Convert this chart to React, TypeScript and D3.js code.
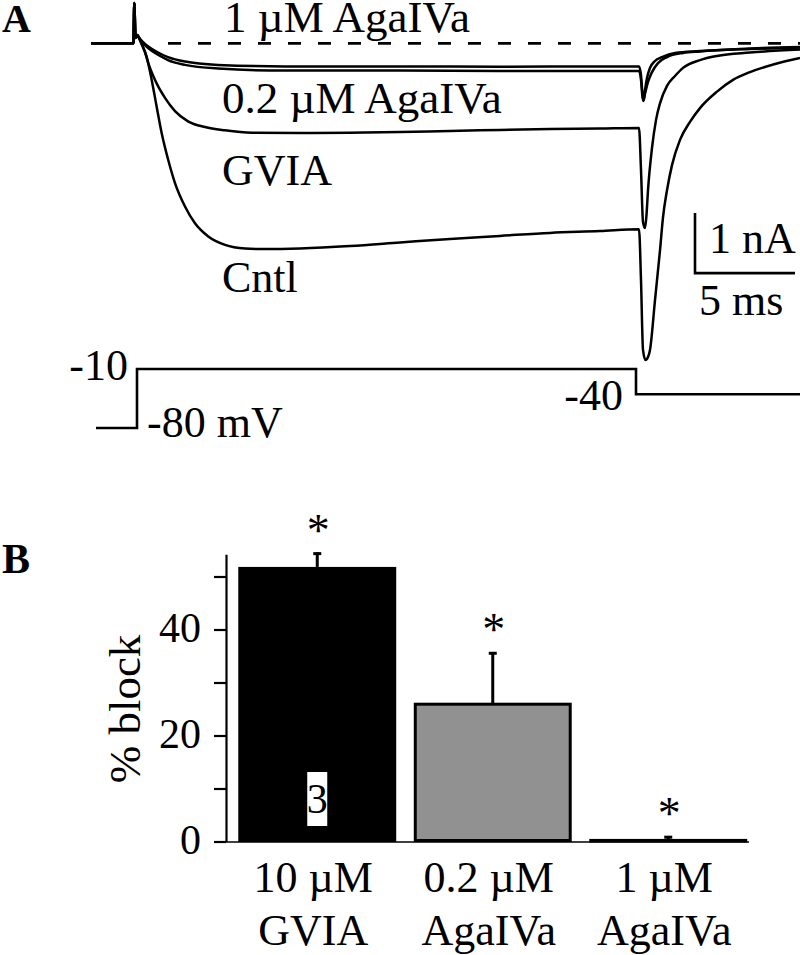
import React from "react";
import * as d3 from "d3";

// ---------- Panel A data (time in ms from step onset, current in nA) ----------
const preStep: [number, number][] = [
  [-2.3, 0], [-0.175, 0], [-0.135, 0.67], [-0.075, 0.09], [0, 0.14],
];

const traceCntl: [number, number][] = [
  [0.075, 0.105], [0.25, -0.03], [0.485, -0.23], [0.735, -0.61], [0.985, -1.06],
  [1.235, -1.5], [1.565, -1.95], [1.9, -2.33], [2.4, -2.72], [2.9, -3.0],
  [3.565, -3.22], [4.4, -3.36], [5.4, -3.42], [6.4, -3.43], [8.15, -3.42],
  [10.65, -3.38], [13.15, -3.32], [15.65, -3.26], [18.15, -3.21], [20.65, -3.16],
  [23.15, -3.13], [25.1, -3.1],
  [25.2, -3.95], [25.3, -5.11], [25.425, -5.28], [25.55, -5.23], [25.65, -5.11],
  [25.9, -4.28], [26.15, -3.45], [26.3, -2.9], [26.5, -2.45], [26.75, -2.03],
  [27.15, -1.61], [27.65, -1.31], [28.15, -1.08], [28.985, -0.81], [29.8, -0.61],
  [30.65, -0.48], [31.9, -0.345], [33.15, -0.245],
];

const traceGVIA: [number, number][] = [
  [0.15, 0.055], [0.4, -0.145], [0.565, -0.33], [0.9, -0.61], [1.4, -0.91],
  [1.9, -1.13], [2.55, -1.3], [3.4, -1.395], [4.4, -1.45], [5.75, -1.49],
  [8.15, -1.495], [10.65, -1.49], [13.15, -1.48], [15.65, -1.46], [18.15, -1.445],
  [20.65, -1.43], [23.15, -1.42], [25.1, -1.41],
  [25.2, -2.11], [25.3, -2.98], [25.4, -3.08], [25.475, -2.86], [25.55, -2.45],
  [25.75, -1.745], [25.95, -1.28], [26.15, -1.0], [26.5, -0.71], [26.9, -0.545],
  [27.3, -0.41], [28.15, -0.28], [29.0, -0.21], [30.65, -0.155], [33.15, -0.105],
];

const traceAga1: [number, number][] = [
  [0.15, 0.07], [0.4, -0.01], [0.75, -0.095], [1.15, -0.17], [1.55, -0.23],
  [2.4, -0.305], [4.05, -0.36], [7.4, -0.385], [13.15, -0.385], [18.15, -0.39],
  [23.15, -0.385], [25.1, -0.385],
  [25.2, -0.53], [25.275, -0.845], [25.325, -0.945], [25.4, -0.78], [25.5, -0.58],
  [25.65, -0.41], [25.9, -0.295], [26.25, -0.23], [26.9, -0.16], [28.15, -0.13],
  [30.65, -0.085], [33.15, -0.06],
];

const traceAga02: [number, number][] = [
  [0.15, 0.07], [0.4, -0.03], [0.75, -0.13], [1.15, -0.21], [1.55, -0.28],
  [2.4, -0.36], [4.05, -0.42], [7.4, -0.455], [13.15, -0.455], [18.15, -0.46],
  [23.15, -0.46], [25.1, -0.46],
  [25.2, -0.61], [25.275, -0.895], [25.325, -0.96], [25.4, -0.845], [25.55, -0.645],
  [25.75, -0.48], [26.05, -0.33], [26.5, -0.23], [27.3, -0.16], [28.15, -0.135],
  [30.65, -0.095], [33.15, -0.07],
];

const voltageProtocol: [number, number][] = [
  [-2.05, -80], [0, -80], [0, -10], [24.95, -10], [24.95, -40], [33.15, -40],
];

const traceLabels = ["1 µM AgaIVa", "0.2 µM AgaIVa", "GVIA", "Cntl"];
const scaleBarTime = 5; // ms
const scaleBarCurrent = 1; // nA

// ---------- Panel B data ----------
const categoriesLine1 = ["10 µM", "0.2 µM", "1 µM"];
const categoriesLine2 = ["GVIA", "AgaIVa", "AgaIVa"];
const blockMeans = [51.9, 26.0, 0.3];
const blockSEM = [2.7, 9.8, 0.8];
const nLabels = ["3", "", ""];
const yTicksB = [0, 10, 20, 30, 40, 50];
const yTickLabelsB = [0, 20, 40];

const FONT = "'Liberation Serif', 'Times New Roman', serif";

export default function App() {
  // Panel A scales
  const xA = d3.scaleLinear().domain([0, 5]).range([137, 237]);
  const yA = d3.scaleLinear().domain([0, -1]).range([43.3, 103.3]);
  const yV = d3.scaleLinear().domain([-80, -10]).range([428, 369]);

  const lineA = d3
    .line<[number, number]>()
    .x((d) => xA(d[0]))
    .y((d) => yA(d[1]))
    .curve(d3.curveMonotoneX);

  const lineV = d3
    .line<[number, number]>()
    .x((d) => xA(d[0]))
    .y((d) => yV(d[1]));

  const traces = [traceAga1, traceAga02, traceGVIA, traceCntl];

  // Panel B scales
  const keys = categoriesLine1.map((c, i) => c + " " + categoriesLine2[i]);
  const xB = d3.scaleBand<string>().domain(keys).range([229.5, 756]).paddingInner(0.1).paddingOuter(0.05);
  const yB = d3.scaleLinear().domain([0, 50]).range([842, 577]);

  const sbT0 = 27.9;
  const sbI0 = -3.83;

  return (
    <svg
      width={800}
      height={955}
      style={{ position: "absolute", left: 0, top: 0, background: "#fff" }}
      fontFamily={FONT}
    >
      <rect x={0} y={0} width={800} height={955} fill="#fff" />
      {/* ---------- Panel A ---------- */}
      <text x={2} y={32} fontSize={40} fontWeight="bold">A</text>

      {/* zero-current dashed line */}
      <line
        x1={xA(1.55)} x2={xA(33.15)} y1={yA(0)} y2={yA(0)}
        stroke="#000" strokeWidth={2.8} strokeDasharray="13,17"
      />

      {traces.map((tr, i) => (
        <path
          key={i}
          d={lineA([...preStep, ...tr]) || ""}
          fill="none"
          stroke="#000"
          strokeWidth={2.5}
          strokeLinejoin="round"
        />
      ))}

      <text x={224} y={32} fontSize={45}>{traceLabels[0]}</text>
      <text x={222} y={113} fontSize={45}>{traceLabels[1]}</text>
      <text x={222} y={185} fontSize={44}>{traceLabels[2]}</text>
      <text x={222} y={292} fontSize={44}>{traceLabels[3]}</text>

      {/* scale bar */}
      <path
        d={`M${xA(sbT0)},${yA(sbI0 + scaleBarCurrent)}V${yA(sbI0)}H${xA(sbT0 + scaleBarTime)}`}
        fill="none" stroke="#000" strokeWidth={2.6}
      />
      <text x={709} y={253} fontSize={44}>{scaleBarCurrent} nA</text>
      <text x={699} y={315} fontSize={44}>{scaleBarTime} ms</text>

      {/* voltage protocol */}
      <path d={lineV(voltageProtocol) || ""} fill="none" stroke="#000" strokeWidth={2.6} />
      <text x={128} y={380} fontSize={44} textAnchor="end">-10</text>
      <text x={147} y={437} fontSize={44}>-80 mV</text>
      <text x={623} y={410} fontSize={44} textAnchor="end">-40</text>

      {/* ---------- Panel B ---------- */}
      <text x={2} y={573} fontSize={42} fontWeight="bold">B</text>

      {/* x baseline */}
      <line x1={226.5} x2={749} y1={yB(0)} y2={yB(0)} stroke="#000" strokeWidth={1.6} />

      {blockMeans.map((v, i) => {
        const x = xB(keys[i]) as number;
        const w = xB.bandwidth();
        const cx = x + w / 2;
        const top = yB(v);
        const errTop = yB(v + blockSEM[i]);
        return (
          <g key={i}>
            {i === 0 ? (
              <rect x={x} y={top} width={w} height={yB(0) - top} fill="#000" />
            ) : (
              <rect
                x={x + 1.5} y={top} width={w - 3} height={Math.max(yB(0) - top - 1.5, 0.5)}
                fill="#919191" stroke="#000" strokeWidth={3}
              />
            )}
            <line x1={cx} x2={cx} y1={top} y2={errTop} stroke="#000" strokeWidth={3} />
            <line x1={cx - 4} x2={cx + 4} y1={errTop + 1} y2={errTop + 1} stroke="#000" strokeWidth={3} />
            <text x={cx + 1} y={errTop - 7} fontSize={46} textAnchor="middle">*</text>
            {nLabels[i] !== "" && (
              <g>
                <rect x={cx - 10} y={772} width={20} height={54} fill="#fff" />
                <text x={cx} y={813} fontSize={42} textAnchor="middle">{nLabels[i]}</text>
              </g>
            )}
            <text x={cx - 4} y={892} fontSize={44} textAnchor="middle">{categoriesLine1[i]}</text>
            <text x={cx - 4} y={945} fontSize={44} textAnchor="middle">{categoriesLine2[i]}</text>
          </g>
        );
      })}

      {/* y axis */}
      <line x1={226.5} x2={226.5} y1={yB(54.2)} y2={yB(0)} stroke="#000" strokeWidth={2.2} />
      {yTicksB.map((t) => (
        <line key={t} x1={214} x2={226.5} y1={yB(t)} y2={yB(t)} stroke="#000" strokeWidth={2.2} />
      ))}
      {yTickLabelsB.map((t) => (
        <text key={t} x={201} y={yB(t) + 12} fontSize={42} textAnchor="end">{t}</text>
      ))}
      <text
        transform="translate(140,709) rotate(-90)"
        fontSize={45}
        textAnchor="middle"
      >% block</text>
    </svg>
  );
}
